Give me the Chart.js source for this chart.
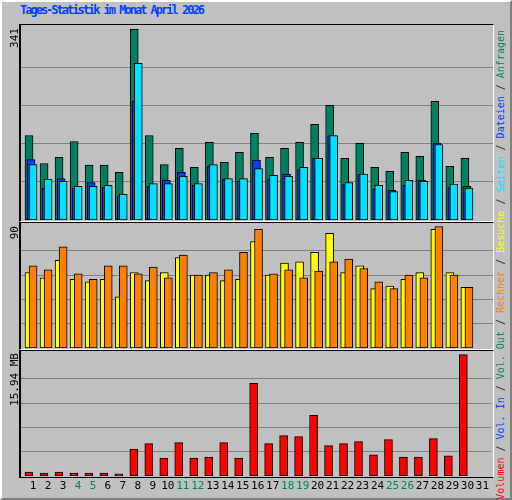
<!DOCTYPE html>
<html><head><meta charset="utf-8">
<script src="https://cdn.jsdelivr.net/npm/chart.js@4"></script>
<style>
body{margin:0;background:#fff}
#outer{position:absolute;left:0;top:0;width:508px;height:496px;background:#c0c0c0;border:2px solid;border-color:#fff #808080 #808080 #fff}
.p{position:absolute}
.frame{position:absolute;box-sizing:border-box;border-style:solid;border-width:1px 1px 1px 2px;border-color:#000 #fff #fff #000;pointer-events:none}
.rot{position:absolute;writing-mode:vertical-rl;transform:rotate(180deg);font-family:"DejaVu Sans Mono",monospace;white-space:nowrap}
</style></head><body>
<div id="outer"></div>
<div class="p" style="left:20px;top:3px;font:bold 12px 'DejaVu Sans Mono',monospace;letter-spacing:-2px;color:#0040ff">Tages-Statistik im Monat April 2026</div>
<div class="p" style="left:20px;top:25px;width:473px;height:195px"><canvas id="c1"></canvas></div>
<div class="p" style="left:20px;top:224px;width:473px;height:124px"><canvas id="c2"></canvas></div>
<div class="p" style="left:20px;top:352px;width:473px;height:146px"><canvas id="c3"></canvas></div>
<div class="frame" style="left:19px;top:24px;width:475px;height:198px"></div>
<div class="frame" style="left:19px;top:222px;width:475px;height:128px"></div>
<div class="frame" style="left:19px;top:350px;width:475px;height:128px;border-bottom-color:#000"></div>
<div class="rot" style="left:8px;top:28px;font-size:11px">341</div>
<div class="rot" style="left:8px;top:226px;font-size:11px">90</div>
<div class="rot" style="left:8px;top:353px;font-size:11px">15.94 MB</div>
<div class="rot" style="left:495px;top:30px;font-size:10px;color:#333"><span style="color:#f00">Volumen</span> / <span style="color:#0040ff">Vol. In</span> / <span style="color:#008060">Vol. Out</span> / <span style="color:#ff8000">Rechner</span> / <span style="color:#ffff00">Besuche</span> / <span style="color:#00e0ff">Seiten</span> / <span style="color:#0040ff">Dateien</span> / <span style="color:#008060">Anfragen</span></div>
<script>
const days=[1,2,3,4,5,6,7,8,9,10,11,12,13,14,15,16,17,18,19,20,21,22,23,24,25,26,27,28,29,30];
const weekend=[4,5,11,12,18,19,25,26];
const hits=[151,101,112,140,98,98,85,341,151,99,128,94,139,103,121,155,112,128,139,171,205,110,137,94,87,121,114,212,96,110];
const pages=[108,57,74,57,67,58,42,212,60,71,85,62,96,73,69,107,73,82,90,110,151,64,82,55,53,62,71,137,58,60];
const files=[99,73,69,60,60,62,46,280,65,65,78,65,99,74,74,92,80,78,94,110,151,67,82,62,51,71,69,135,64,57];
const visits=[56,52,65,51,49,51,38,56,50,56,67,54,54,50,51,79,54,63,64,71,85,56,61,44,46,51,56,88,56,45];
const hosts=[61,58,75,55,51,61,61,55,60,52,69,54,56,58,71,88,55,58,52,57,64,66,59,49,44,54,52,90,54,45];
const volumeMB=[0.53,0.4,0.53,0.4,0.4,0.4,0.27,3.54,4.25,2.35,4.38,2.35,2.48,4.38,2.35,12.18,4.25,5.31,5.18,7.97,3.99,4.25,4.52,2.79,4.78,2.48,2.48,4.92,2.66,15.94];
const tickLabels=[...Array(31)].map((_,i)=>String(i+1));
const maxes={top:341,mid:90,bot:15.94};
const font="'DejaVu Sans Mono', monospace";
function ds(vals,off,color,order){return{data:vals.map((v,i)=>({x:days[i]+off,y:v})),backgroundColor:color,borderColor:'#000',borderWidth:1,borderSkipped:false,barThickness:8,grouped:false,order}}
function yScale(max,step){return{min:0,max:max*1.022,display:true,border:{display:false},ticks:{display:false},afterFit:s=>{s.width=0},
 afterBuildTicks:s=>{s.ticks=[1,2,3,4].map(k=>({value:step*k}))},grid:{color:'#808080',lineWidth:1,drawTicks:false}}}
function xScale(show){return{type:'linear',min:0.13,max:31.6,display:show,offset:false,border:{display:false},grid:{display:false,drawTicks:false},
 afterBuildTicks:s=>{s.ticks=tickLabels.map(t=>({value:+t}))},
 ticks:{autoSkip:false,maxRotation:0,padding:4,font:{family:font,size:11},callback:v=>tickLabels[v-1]||'',color:c=>weekend.includes(c.tick.value)?'#008060':'#000'},
 afterFit:s=>{s.height=show?22:0}}}
function mk(id,datasets,max,show){new Chart(document.getElementById(id),{type:'bar',data:{datasets},
 options:{responsive:true,maintainAspectRatio:false,animation:false,layout:{padding:0},plugins:{legend:{display:false},tooltip:{enabled:false}},
 scales:{x:xScale(show),y:yScale(max,max/5)}}})}
mk('c1',[ds(hits,-0.27,'#008060',3),ds(pages,-0.134,'#0040ff',2),ds(files,0,'#00e0ff',1)],maxes.top,false);
mk('c2',[ds(visits,-0.27,'#ffff00',2),ds(hosts,0,'#ff8000',1)],maxes.mid,false);
mk('c3',[ds(volumeMB,-0.27,'#ff0000',1)],maxes.bot,true);
</script></body></html>
